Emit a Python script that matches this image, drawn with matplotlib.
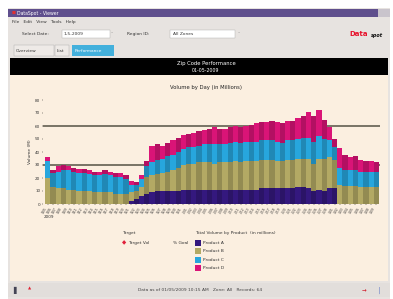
import matplotlib
matplotlib.use("Agg")
import matplotlib.pyplot as plt
from matplotlib.patches import Rectangle
import matplotlib.colors as mcolors
import numpy as np

W, H = 393, 299

# ---- data ----
series_names = ["Product A", "Product B", "Product C", "Product D"]
purple = [0, 0, 0, 0, 0, 0, 0, 0, 0, 0, 0, 0, 0, 0, 0, 0, 2, 4, 6,
          8, 9.5, 10, 10, 10, 10, 10, 11, 11, 11, 11, 11, 11, 11, 11, 11, 11, 11,
          11, 11, 11, 11, 12, 12, 12, 12, 12, 12, 12, 13, 13, 12, 10, 11, 10, 12,
          12, 0, 0, 0, 0, 0, 0, 0, 0]
khaki = [20, 13, 12, 12, 11, 11, 10, 10, 10, 9, 9, 9, 9, 8, 8, 8, 7, 6, 7,
         13, 12.5, 13, 14, 15, 16, 18, 19, 20, 20, 21, 21, 21, 20, 21, 21, 21, 22,
         21, 22, 22, 22, 22, 22, 22, 21, 21, 22, 22, 22, 22, 23, 21, 24, 25, 24,
         22, 15, 14, 14, 14, 13, 13, 13, 13]
blue = [13, 11, 13, 14, 15, 14, 14, 14, 13, 13, 13, 14, 13, 13, 13, 11, 6, 5, 6,
        8, 10.5, 11, 11, 12, 12, 12, 12, 13, 13, 13, 14, 14, 15, 14, 14, 15, 15,
        15, 15, 15, 15, 15, 15, 15, 15, 14, 15, 15, 15, 16, 16, 17, 17, 15, 13,
        10, 13, 12, 12, 12, 12, 12, 12, 12]
magenta = [3, 2, 4, 4, 3, 3, 3, 3, 3, 3, 3, 3, 3, 3, 3, 3, 3, 2, 3,
           4, 12.5, 12, 10, 10, 11, 11, 11, 10, 11, 11, 11, 12, 13, 12, 12, 12, 12,
           12, 12, 13, 14, 14, 14, 15, 15, 15, 15, 15, 16, 17, 20, 20, 20, 15, 10,
           6, 15, 12, 10, 11, 9, 8, 8, 7]
target_high = 60
target_low = 30
day_labels = ["%d/%02d" % (m, d) for m, d in
              [(1, d) for d in range(5, 32)] + [(2, d) for d in range(1, 29)] + [(3, d) for d in range(1, 10)]]
y_ticks = [0, 10, 20, 30, 40, 50, 60, 70, 80]
y_ticklabels = ["0", "10", "20", "30", "40", "50", "60", "70", "80"]

colors = ["#34187e", "#b3a964", "#27a6dd", "#da1477"]


def fx(x):
    return x / W


def fy(y):
    return 1 - y / H


def rect(fig, x0, y0, x1, y1, fc, ec="none", lw=0.0, z=0):
    fig.patches.append(Rectangle((fx(x0), fy(y1)), (x1 - x0) / W, (y1 - y0) / H,
                                 transform=fig.transFigure, fc=fc, ec=ec, lw=lw, zorder=z))


def txt(fig, x, y, s, **kw):
    kw.setdefault("fontsize", 3.5)
    kw.setdefault("va", "center")
    fig.text(fx(x), fy(y), s, **kw)


def shade(c, f):
    r, g, b = mcolors.to_rgb(c)
    return (r * f, g * f, b * f)


fig = plt.figure(figsize=(W / 100, H / 100), dpi=100, facecolor="white")

# window chrome
rect(fig, 8, 8, 390, 299, "#e7e3e0")
rect(fig, 8, 9, 378, 17, "#5f4f8d")
rect(fig, 378, 9, 390, 17, "#c9c4cc")
txt(fig, 12, 13, "\u25a0", color="#e03030", fontsize=3)
txt(fig, 17, 13, "DataSpot - Viewer", color="white", fontsize=3.3)
txt(fig, 12, 21.5, "File   Edit   View   Tools   Help", color="#333333", fontsize=3.2)

# toolbar
txt(fig, 22, 34, "Select Date:", color="#333333", fontsize=3.2)
rect(fig, 62, 30, 110, 38, "white", ec="#aaaaaa", lw=0.3, z=1)
txt(fig, 64, 34, "1-5-2009", color="#333333", fontsize=3.2)
txt(fig, 111, 34, "\u02c5", color="#888888", fontsize=3.2)
txt(fig, 127, 34, "Region ID:", color="#333333", fontsize=3.2)
rect(fig, 170, 30, 235, 38, "white", ec="#aaaaaa", lw=0.3, z=1)
txt(fig, 173, 34, "All Zones", color="#333333", fontsize=3.2)
txt(fig, 238, 34, "\u02c5", color="#888888", fontsize=3.2)
txt(fig, 349, 34, "Data", color="#e8102a", fontsize=5, fontweight="bold")
txt(fig, 371, 35.5, "spot", color="#111111", fontsize=3.5, fontweight="bold", style="italic")

# tabs
rect(fig, 14, 45, 54, 56, "#eeeae7", ec="#aaaaaa", lw=0.3, z=1)
txt(fig, 16, 51, "Overview", color="#333333", fontsize=3.2)
rect(fig, 55, 45, 69, 56, "#eeeae7", ec="#aaaaaa", lw=0.3, z=1)
txt(fig, 57, 51, "List", color="#333333", fontsize=3.2)
rect(fig, 72, 45, 114, 56, "#43b0dc", z=1)
txt(fig, 75, 51, "Performance", color="white", fontsize=3.2)

# header band and chart panel
rect(fig, 10, 58, 388, 75, "#000000", z=1)
txt(fig, 206, 63, "Zip Code Performance", color="white", fontsize=3.8, ha="center")
txt(fig, 206, 70, "01-05-2009", color="white", fontsize=3.4, ha="center")
rect(fig, 10, 75, 388, 281, "#fbefe0", z=1)
txt(fig, 206, 88, "Volume by Day (in Millions)", color="#222222", fontsize=3.8, ha="center", zorder=3)

# status bar
rect(fig, 8, 283, 390, 297, "#e2dedb", z=1)
txt(fig, 13, 290, "\u258c", color="#444455", fontsize=5, zorder=3)
txt(fig, 28, 289, "\u25b2", color="#e02030", fontsize=3, zorder=3)
txt(fig, 200, 290, "Data as of 01/05/2009 10:15 AM   Zone: All   Records: 64",
    color="#444444", fontsize=3.2, ha="center", zorder=3)
txt(fig, 362, 290, "\u2192", color="#d01020", fontsize=4, zorder=3)
txt(fig, 378, 290, "\u2502", color="#4060c0", fontsize=4, zorder=3)

# plot
ax = fig.add_axes([fx(43), fy(204), (380 - 43) / W, (204 - 100) / H])
ax.set_facecolor("none")
ax.set_zorder(4)
n = len(purple)
x = np.arange(n)
bottom = np.zeros(n)
for vals, c, name in zip([purple, khaki, blue, magenta], colors, series_names):
    vals = np.array(vals, dtype=float)
    cols = [c if i % 2 == 0 else shade(c, 0.82) for i in range(n)]
    ax.bar(x, vals, bottom=bottom, width=1.0, color=cols, linewidth=0, label=name, zorder=2)
    bottom += vals

ax.axhline(target_high, color="#6e6a5c", lw=1.3, zorder=1)
ax.axhline(target_low, color="#6e6a5c", lw=1.3, zorder=1)

ax.set_xlim(-0.9, n - 0.3)
ax.set_ylim(0, 80)
ax.set_yticks(y_ticks)
ax.set_yticklabels(y_ticklabels, fontsize=3, color="#333333")
ax.set_xticks(x)
ax.set_xticklabels(day_labels[:n], fontsize=2.2, rotation=60, ha="right", color="#333333")
ax.tick_params(length=1, width=0.3, pad=1)
for s in ax.spines.values():
    s.set_visible(False)
ax.set_ylabel("Volume (M)", fontsize=3.2, color="#333333", labelpad=2)
txt(fig, 44, 217, "2009", color="#333333", fontsize=3, zorder=5)

# legend
txt(fig, 122, 233, "Target", color="#333333", fontsize=3.2, zorder=5)
txt(fig, 122, 243, "\u25c6", color="#e0203a", fontsize=4, zorder=5)
txt(fig, 128, 243, "Target Vol", color="#333333", fontsize=3.2, zorder=5)
txt(fig, 173, 243, "% Goal", color="#333333", fontsize=3.2, zorder=5)
txt(fig, 195, 233, "Total Volume by Product  (in millions)", color="#333333", fontsize=3.2, zorder=5)
for i, (c, name) in enumerate(zip(colors, series_names)):
    yy = 243 + i * 8.3
    rect(fig, 195, yy - 3, 201, yy + 3, c, z=5)
    txt(fig, 203, yy, name, color="#333333", fontsize=3.2, zorder=5)

fig.savefig("out.png", dpi=100, facecolor="white")
